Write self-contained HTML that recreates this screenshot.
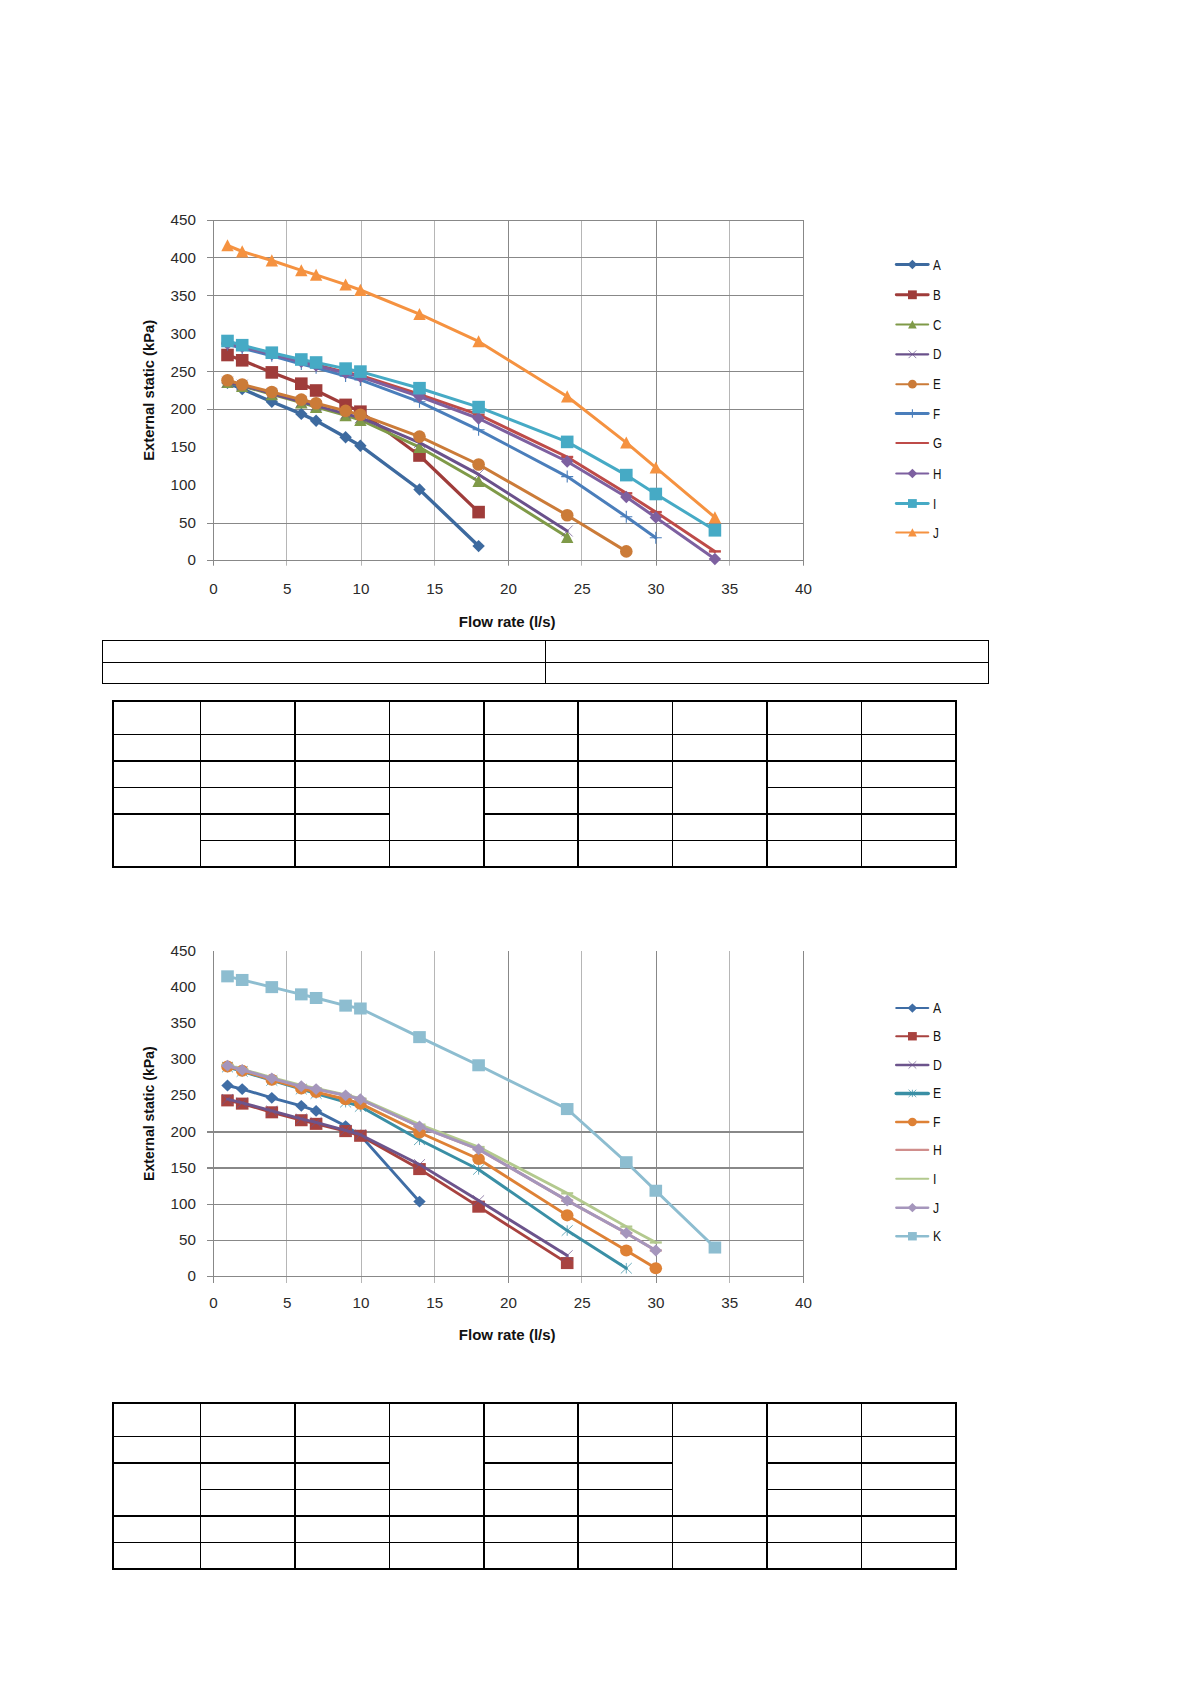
<!DOCTYPE html>
<html lang="en"><head><meta charset="utf-8"><title>Flow rate charts</title>
<style>
html,body{margin:0;padding:0;background:#fff;}
body{width:1190px;height:1684px;overflow:hidden;}
svg{display:block;}
.tk{font-family:"Liberation Sans", sans-serif;font-size:15.2px;fill:#2a2a2a;}
.lg{font-family:"Liberation Sans", sans-serif;fill:#111;}
.ttl{font-family:"Liberation Sans", sans-serif;font-size:14.9px;font-weight:bold;fill:#111;}
</style></head><body>
<svg width="1190" height="1684" viewBox="0 0 1190 1684">
<rect width="1190" height="1684" fill="#fff"/>
<g id="chart1">
<line x1="213.5" y1="220.5" x2="213.5" y2="565.7" stroke="#888888" stroke-width="1"/>
<line x1="286.5" y1="220.5" x2="286.5" y2="565.7" stroke="#b6b6b6" stroke-width="1"/>
<line x1="361.5" y1="220.5" x2="361.5" y2="565.7" stroke="#b6b6b6" stroke-width="1"/>
<line x1="434.5" y1="220.5" x2="434.5" y2="565.7" stroke="#b6b6b6" stroke-width="1"/>
<line x1="508.5" y1="220.5" x2="508.5" y2="565.7" stroke="#888888" stroke-width="1"/>
<line x1="581.5" y1="220.5" x2="581.5" y2="565.7" stroke="#b6b6b6" stroke-width="1"/>
<line x1="656.5" y1="220.5" x2="656.5" y2="565.7" stroke="#888888" stroke-width="1"/>
<line x1="729.5" y1="220.5" x2="729.5" y2="565.7" stroke="#b6b6b6" stroke-width="1"/>
<line x1="803.5" y1="220.5" x2="803.5" y2="565.7" stroke="#888888" stroke-width="1"/>
<line x1="207" y1="220.5" x2="804" y2="220.5" stroke="#888888" stroke-width="1"/>
<line x1="207" y1="257.5" x2="804" y2="257.5" stroke="#888888" stroke-width="1"/>
<line x1="207" y1="295.5" x2="804" y2="295.5" stroke="#888888" stroke-width="1"/>
<line x1="207" y1="371.5" x2="804" y2="371.5" stroke="#888888" stroke-width="1"/>
<line x1="207" y1="409.5" x2="804" y2="409.5" stroke="#888888" stroke-width="1"/>
<line x1="207" y1="523.5" x2="804" y2="523.5" stroke="#888888" stroke-width="1"/>
<line x1="207" y1="560.5" x2="804" y2="560.5" stroke="#888888" stroke-width="1"/>
<text x="195.9" y="565.4" text-anchor="end" class="tk">0</text>
<text x="195.9" y="527.6" text-anchor="end" class="tk">50</text>
<text x="195.9" y="489.8" text-anchor="end" class="tk">100</text>
<text x="195.9" y="452.1" text-anchor="end" class="tk">150</text>
<text x="195.9" y="414.3" text-anchor="end" class="tk">200</text>
<text x="195.9" y="376.5" text-anchor="end" class="tk">250</text>
<text x="195.9" y="338.7" text-anchor="end" class="tk">300</text>
<text x="195.9" y="301.0" text-anchor="end" class="tk">350</text>
<text x="195.9" y="263.2" text-anchor="end" class="tk">400</text>
<text x="195.9" y="225.4" text-anchor="end" class="tk">450</text>
<text x="213.5" y="593.6" text-anchor="middle" class="tk">0</text>
<text x="287.2" y="593.6" text-anchor="middle" class="tk">5</text>
<text x="361.0" y="593.6" text-anchor="middle" class="tk">10</text>
<text x="434.8" y="593.6" text-anchor="middle" class="tk">15</text>
<text x="508.5" y="593.6" text-anchor="middle" class="tk">20</text>
<text x="582.2" y="593.6" text-anchor="middle" class="tk">25</text>
<text x="656.0" y="593.6" text-anchor="middle" class="tk">30</text>
<text x="729.8" y="593.6" text-anchor="middle" class="tk">35</text>
<text x="803.5" y="593.6" text-anchor="middle" class="tk">40</text>
<text x="458.8" y="627.2" textLength="96.8" lengthAdjust="spacingAndGlyphs" class="ttl">Flow rate (l/s)</text>
<text transform="translate(154.4,460.8) rotate(-90)" textLength="141" lengthAdjust="spacingAndGlyphs" class="ttl">External static (kPa)</text>
<path d="M227.5,382.9L242.2,389.0L271.8,401.8L301.3,413.9L316.1,420.7L345.6,437.3L360.4,445.7L419.5,489.5L478.6,546.1" fill="none" stroke="#3d6a9f" stroke-width="3.4" stroke-linejoin="round" stroke-linecap="round"/>
<path d="M227.5,376.7L233.7,382.9L227.5,389.09999999999997L221.3,382.9Z" fill="#3d6a9f"/>
<path d="M242.2,382.8L248.39999999999998,389.0L242.2,395.2L236.0,389.0Z" fill="#3d6a9f"/>
<path d="M271.8,395.6L278.0,401.8L271.8,408.0L265.6,401.8Z" fill="#3d6a9f"/>
<path d="M301.3,407.7L307.5,413.9L301.3,420.09999999999997L295.1,413.9Z" fill="#3d6a9f"/>
<path d="M316.1,414.5L322.3,420.7L316.1,426.9L309.90000000000003,420.7Z" fill="#3d6a9f"/>
<path d="M345.6,431.1L351.8,437.3L345.6,443.5L339.40000000000003,437.3Z" fill="#3d6a9f"/>
<path d="M360.4,439.5L366.59999999999997,445.7L360.4,451.9L354.2,445.7Z" fill="#3d6a9f"/>
<path d="M419.5,483.3L425.7,489.5L419.5,495.7L413.3,489.5Z" fill="#3d6a9f"/>
<path d="M478.6,539.9L484.8,546.1L478.6,552.3000000000001L472.40000000000003,546.1Z" fill="#3d6a9f"/>
<path d="M227.5,355.0L242.2,360.3L271.8,372.4L301.3,383.7L316.1,390.5L345.6,404.9L360.4,411.7L419.5,455.5L478.6,512.1" fill="none" stroke="#9f3c3a" stroke-width="3.2" stroke-linejoin="round" stroke-linecap="round"/>
<rect x="221.2" y="348.7" width="12.6" height="12.6" fill="#9f3c3a"/>
<rect x="235.9" y="354.0" width="12.6" height="12.6" fill="#9f3c3a"/>
<rect x="265.5" y="366.1" width="12.6" height="12.6" fill="#9f3c3a"/>
<rect x="295.0" y="377.4" width="12.6" height="12.6" fill="#9f3c3a"/>
<rect x="309.8" y="384.2" width="12.6" height="12.6" fill="#9f3c3a"/>
<rect x="339.3" y="398.6" width="12.6" height="12.6" fill="#9f3c3a"/>
<rect x="354.1" y="405.4" width="12.6" height="12.6" fill="#9f3c3a"/>
<rect x="413.2" y="449.2" width="12.6" height="12.6" fill="#9f3c3a"/>
<rect x="472.3" y="505.8" width="12.6" height="12.6" fill="#9f3c3a"/>
<path d="M227.5,382.2L242.2,386.0L271.8,394.3L301.3,402.6L316.1,407.1L345.6,415.4L360.4,420.0L419.5,447.2L478.6,481.2L567.2,537.1" fill="none" stroke="#7f9a48" stroke-width="3.0" stroke-linejoin="round" stroke-linecap="round"/>
<path d="M227.5,376.0L233.7,388.09L221.3,388.09Z" fill="#7f9a48"/>
<path d="M242.2,379.8L248.39999999999998,391.89L236.0,391.89Z" fill="#7f9a48"/>
<path d="M271.8,388.1L278.0,400.19L265.6,400.19Z" fill="#7f9a48"/>
<path d="M301.3,396.40000000000003L307.5,408.49L295.1,408.49Z" fill="#7f9a48"/>
<path d="M316.1,400.90000000000003L322.3,412.99L309.90000000000003,412.99Z" fill="#7f9a48"/>
<path d="M345.6,409.2L351.8,421.28999999999996L339.40000000000003,421.28999999999996Z" fill="#7f9a48"/>
<path d="M360.4,413.8L366.59999999999997,425.89L354.2,425.89Z" fill="#7f9a48"/>
<path d="M419.5,441.0L425.7,453.09L413.3,453.09Z" fill="#7f9a48"/>
<path d="M478.6,475.0L484.8,487.09L472.40000000000003,487.09Z" fill="#7f9a48"/>
<path d="M567.2,530.9L573.4000000000001,542.99L561.0,542.99Z" fill="#7f9a48"/>
<path d="M227.5,382.2L242.2,385.2L271.8,393.5L301.3,401.8L316.1,405.6L345.6,413.9L360.4,417.7L419.5,442.6L478.6,474.4L567.2,531.0" fill="none" stroke="#6a518b" stroke-width="3.0" stroke-linejoin="round" stroke-linecap="round"/>
<path d="M222.0,376.7L233.0,387.7M222.0,387.7L233.0,376.7" stroke="#6a518b" stroke-width="0.9" fill="none" opacity="0.8"/>
<path d="M236.7,379.7L247.7,390.7M236.7,390.7L247.7,379.7" stroke="#6a518b" stroke-width="0.9" fill="none" opacity="0.8"/>
<path d="M266.3,388.0L277.3,399.0M266.3,399.0L277.3,388.0" stroke="#6a518b" stroke-width="0.9" fill="none" opacity="0.8"/>
<path d="M295.8,396.3L306.8,407.3M295.8,407.3L306.8,396.3" stroke="#6a518b" stroke-width="0.9" fill="none" opacity="0.8"/>
<path d="M310.6,400.1L321.6,411.1M310.6,411.1L321.6,400.1" stroke="#6a518b" stroke-width="0.9" fill="none" opacity="0.8"/>
<path d="M340.1,408.4L351.1,419.4M340.1,419.4L351.1,408.4" stroke="#6a518b" stroke-width="0.9" fill="none" opacity="0.8"/>
<path d="M354.9,412.2L365.9,423.2M354.9,423.2L365.9,412.2" stroke="#6a518b" stroke-width="0.9" fill="none" opacity="0.8"/>
<path d="M414.0,437.1L425.0,448.1M414.0,448.1L425.0,437.1" stroke="#6a518b" stroke-width="0.9" fill="none" opacity="0.8"/>
<path d="M473.1,468.9L484.1,479.9M473.1,479.9L484.1,468.9" stroke="#6a518b" stroke-width="0.9" fill="none" opacity="0.8"/>
<path d="M561.7,525.5L572.7,536.5M561.7,536.5L572.7,525.5" stroke="#6a518b" stroke-width="0.9" fill="none" opacity="0.8"/>
<path d="M227.5,380.3L242.2,384.5L271.8,392.0L301.3,399.6L316.1,403.3L345.6,410.9L360.4,414.7L419.5,436.6L478.6,464.5L567.2,515.2L626.3,551.4" fill="none" stroke="#cb7b38" stroke-width="3.0" stroke-linejoin="round" stroke-linecap="round"/>
<circle cx="227.5" cy="380.3" r="6.3" fill="#cb7b38"/>
<circle cx="242.2" cy="384.5" r="6.3" fill="#cb7b38"/>
<circle cx="271.8" cy="392.0" r="6.3" fill="#cb7b38"/>
<circle cx="301.3" cy="399.6" r="6.3" fill="#cb7b38"/>
<circle cx="316.1" cy="403.3" r="6.3" fill="#cb7b38"/>
<circle cx="345.6" cy="410.9" r="6.3" fill="#cb7b38"/>
<circle cx="360.4" cy="414.7" r="6.3" fill="#cb7b38"/>
<circle cx="419.5" cy="436.6" r="6.3" fill="#cb7b38"/>
<circle cx="478.6" cy="464.5" r="6.3" fill="#cb7b38"/>
<circle cx="567.2" cy="515.2" r="6.3" fill="#cb7b38"/>
<circle cx="626.3" cy="551.4" r="6.3" fill="#cb7b38"/>
<path d="M227.5,344.4L242.2,348.2L271.8,355.7L301.3,364.1L316.1,367.8L345.6,376.1L360.4,379.9L419.5,401.8L478.6,429.8L567.2,476.6L626.3,516.7L655.8,537.8" fill="none" stroke="#4a7ebb" stroke-width="3.0" stroke-linejoin="round" stroke-linecap="round"/>
<path d="M221.5,344.4L233.5,344.4M227.5,338.4L227.5,350.4" stroke="#4a7ebb" stroke-width="1.1" fill="none"/>
<path d="M236.2,348.2L248.2,348.2M242.2,342.2L242.2,354.2" stroke="#4a7ebb" stroke-width="1.1" fill="none"/>
<path d="M265.8,355.7L277.8,355.7M271.8,349.7L271.8,361.7" stroke="#4a7ebb" stroke-width="1.1" fill="none"/>
<path d="M295.3,364.1L307.3,364.1M301.3,358.1L301.3,370.1" stroke="#4a7ebb" stroke-width="1.1" fill="none"/>
<path d="M310.1,367.8L322.1,367.8M316.1,361.8L316.1,373.8" stroke="#4a7ebb" stroke-width="1.1" fill="none"/>
<path d="M339.6,376.1L351.6,376.1M345.6,370.1L345.6,382.1" stroke="#4a7ebb" stroke-width="1.1" fill="none"/>
<path d="M354.4,379.9L366.4,379.9M360.4,373.9L360.4,385.9" stroke="#4a7ebb" stroke-width="1.1" fill="none"/>
<path d="M413.5,401.8L425.5,401.8M419.5,395.8L419.5,407.8" stroke="#4a7ebb" stroke-width="1.1" fill="none"/>
<path d="M472.6,429.8L484.6,429.8M478.6,423.8L478.6,435.8" stroke="#4a7ebb" stroke-width="1.1" fill="none"/>
<path d="M561.2,476.6L573.2,476.6M567.2,470.6L567.2,482.6" stroke="#4a7ebb" stroke-width="1.1" fill="none"/>
<path d="M620.3,516.7L632.3,516.7M626.3,510.70000000000005L626.3,522.7" stroke="#4a7ebb" stroke-width="1.1" fill="none"/>
<path d="M649.8,537.8L661.8,537.8M655.8,531.8L655.8,543.8" stroke="#4a7ebb" stroke-width="1.1" fill="none"/>
<path d="M227.5,342.9L242.2,345.9L271.8,353.5L301.3,361.0L316.1,364.8L345.6,372.4L360.4,375.4L419.5,394.3L478.6,414.7L567.2,457.0L626.3,493.3L655.8,512.1L714.9,551.4" fill="none" stroke="#be4b48" stroke-width="3.0" stroke-linejoin="round" stroke-linecap="round"/>
<rect x="221.5" y="341.7" width="12.0" height="2.4" fill="#be4b48"/>
<rect x="236.2" y="344.7" width="12.0" height="2.4" fill="#be4b48"/>
<rect x="265.8" y="352.3" width="12.0" height="2.4" fill="#be4b48"/>
<rect x="295.3" y="359.8" width="12.0" height="2.4" fill="#be4b48"/>
<rect x="310.1" y="363.6" width="12.0" height="2.4" fill="#be4b48"/>
<rect x="339.6" y="371.2" width="12.0" height="2.4" fill="#be4b48"/>
<rect x="354.4" y="374.2" width="12.0" height="2.4" fill="#be4b48"/>
<rect x="413.5" y="393.1" width="12.0" height="2.4" fill="#be4b48"/>
<rect x="472.6" y="413.5" width="12.0" height="2.4" fill="#be4b48"/>
<rect x="561.2" y="455.8" width="12.0" height="2.4" fill="#be4b48"/>
<rect x="620.3" y="492.1" width="12.0" height="2.4" fill="#be4b48"/>
<rect x="649.8" y="510.9" width="12.0" height="2.4" fill="#be4b48"/>
<rect x="708.9" y="550.2" width="12.0" height="2.4" fill="#be4b48"/>
<path d="M227.5,343.7L242.2,346.7L271.8,354.2L301.3,361.8L316.1,365.6L345.6,373.1L360.4,376.9L419.5,396.5L478.6,418.5L567.2,461.5L626.3,497.0L655.8,517.4L714.9,559.0" fill="none" stroke="#7d60a0" stroke-width="3.0" stroke-linejoin="round" stroke-linecap="round"/>
<path d="M227.5,337.5L233.7,343.7L227.5,349.9L221.3,343.7Z" fill="#7d60a0"/>
<path d="M242.2,340.5L248.39999999999998,346.7L242.2,352.9L236.0,346.7Z" fill="#7d60a0"/>
<path d="M271.8,348.0L278.0,354.2L271.8,360.4L265.6,354.2Z" fill="#7d60a0"/>
<path d="M301.3,355.6L307.5,361.8L301.3,368.0L295.1,361.8Z" fill="#7d60a0"/>
<path d="M316.1,359.40000000000003L322.3,365.6L316.1,371.8L309.90000000000003,365.6Z" fill="#7d60a0"/>
<path d="M345.6,366.90000000000003L351.8,373.1L345.6,379.3L339.40000000000003,373.1Z" fill="#7d60a0"/>
<path d="M360.4,370.7L366.59999999999997,376.9L360.4,383.09999999999997L354.2,376.9Z" fill="#7d60a0"/>
<path d="M419.5,390.3L425.7,396.5L419.5,402.7L413.3,396.5Z" fill="#7d60a0"/>
<path d="M478.6,412.3L484.8,418.5L478.6,424.7L472.40000000000003,418.5Z" fill="#7d60a0"/>
<path d="M567.2,455.3L573.4000000000001,461.5L567.2,467.7L561.0,461.5Z" fill="#7d60a0"/>
<path d="M626.3,490.8L632.5,497.0L626.3,503.2L620.0999999999999,497.0Z" fill="#7d60a0"/>
<path d="M655.8,511.2L662.0,517.4L655.8,523.6L649.5999999999999,517.4Z" fill="#7d60a0"/>
<path d="M714.9,552.8L721.1,559.0L714.9,565.2L708.6999999999999,559.0Z" fill="#7d60a0"/>
<path d="M227.5,341.0L242.2,345.2L271.8,352.7L301.3,359.5L316.1,362.5L345.6,368.6L360.4,371.6L419.5,388.2L478.6,407.1L567.2,441.9L626.3,475.1L655.8,494.0L714.9,530.3" fill="none" stroke="#46aac5" stroke-width="3.0" stroke-linejoin="round" stroke-linecap="round"/>
<rect x="221.2" y="334.7" width="12.6" height="12.6" fill="#46aac5"/>
<rect x="235.9" y="338.9" width="12.6" height="12.6" fill="#46aac5"/>
<rect x="265.5" y="346.4" width="12.6" height="12.6" fill="#46aac5"/>
<rect x="295.0" y="353.2" width="12.6" height="12.6" fill="#46aac5"/>
<rect x="309.8" y="356.2" width="12.6" height="12.6" fill="#46aac5"/>
<rect x="339.3" y="362.3" width="12.6" height="12.6" fill="#46aac5"/>
<rect x="354.1" y="365.3" width="12.6" height="12.6" fill="#46aac5"/>
<rect x="413.2" y="381.9" width="12.6" height="12.6" fill="#46aac5"/>
<rect x="472.3" y="400.8" width="12.6" height="12.6" fill="#46aac5"/>
<rect x="560.9" y="435.6" width="12.6" height="12.6" fill="#46aac5"/>
<rect x="620.0" y="468.8" width="12.6" height="12.6" fill="#46aac5"/>
<rect x="649.5" y="487.7" width="12.6" height="12.6" fill="#46aac5"/>
<rect x="708.6" y="524.0" width="12.6" height="12.6" fill="#46aac5"/>
<path d="M227.5,245.4L242.2,251.5L271.8,260.5L301.3,270.4L316.1,274.9L345.6,284.7L360.4,290.0L419.5,314.2L478.6,341.4L567.2,396.5L626.3,442.6L655.8,467.6L714.9,517.4" fill="none" stroke="#f59240" stroke-width="3.0" stroke-linejoin="round" stroke-linecap="round"/>
<path d="M227.5,239.20000000000002L233.7,251.29L221.3,251.29Z" fill="#f59240"/>
<path d="M242.2,245.3L248.39999999999998,257.39L236.0,257.39Z" fill="#f59240"/>
<path d="M271.8,254.3L278.0,266.39L265.6,266.39Z" fill="#f59240"/>
<path d="M301.3,264.2L307.5,276.28999999999996L295.1,276.28999999999996Z" fill="#f59240"/>
<path d="M316.1,268.7L322.3,280.78999999999996L309.90000000000003,280.78999999999996Z" fill="#f59240"/>
<path d="M345.6,278.5L351.8,290.59L339.40000000000003,290.59Z" fill="#f59240"/>
<path d="M360.4,283.8L366.59999999999997,295.89L354.2,295.89Z" fill="#f59240"/>
<path d="M419.5,308.0L425.7,320.09L413.3,320.09Z" fill="#f59240"/>
<path d="M478.6,335.2L484.8,347.28999999999996L472.40000000000003,347.28999999999996Z" fill="#f59240"/>
<path d="M567.2,390.3L573.4000000000001,402.39L561.0,402.39Z" fill="#f59240"/>
<path d="M626.3,436.40000000000003L632.5,448.49L620.0999999999999,448.49Z" fill="#f59240"/>
<path d="M655.8,461.40000000000003L662.0,473.49L649.5999999999999,473.49Z" fill="#f59240"/>
<path d="M714.9,511.2L721.1,523.29L708.6999999999999,523.29Z" fill="#f59240"/>
<line x1="896.3" y1="264.5" x2="928.2" y2="264.5" stroke="#3d6a9f" stroke-width="2.9" stroke-linecap="round"/>
<path d="M912.4,259.664L917.236,264.5L912.4,269.336L907.564,264.5Z" fill="#3d6a9f"/>
<text transform="translate(933.1,269.6) scale(0.81,1)" class="lg" font-size="14.40">A</text>
<line x1="896.3" y1="294.8" x2="928.2" y2="294.8" stroke="#9f3c3a" stroke-width="2.9" stroke-linecap="round"/>
<rect x="908.0" y="290.4" width="8.8" height="8.8" fill="#9f3c3a"/>
<text transform="translate(933.1,299.9) scale(0.81,1)" class="lg" font-size="14.40">B</text>
<line x1="896.3" y1="324.5" x2="928.2" y2="324.5" stroke="#7f9a48" stroke-width="2.0" stroke-linecap="round"/>
<path d="M912.4,320.16L916.74,328.623L908.06,328.623Z" fill="#7f9a48"/>
<text transform="translate(933.1,329.6) scale(0.81,1)" class="lg" font-size="14.40">C</text>
<line x1="896.3" y1="354.3" x2="928.2" y2="354.3" stroke="#6a518b" stroke-width="2.2" stroke-linecap="round"/>
<path d="M908.55,350.45L916.25,358.15000000000003M908.55,358.15000000000003L916.25,350.45" stroke="#6a518b" stroke-width="0.9" fill="none" opacity="0.8"/>
<text transform="translate(933.1,359.4) scale(0.81,1)" class="lg" font-size="14.40">D</text>
<line x1="896.3" y1="384.2" x2="928.2" y2="384.2" stroke="#cb7b38" stroke-width="2.0" stroke-linecap="round"/>
<circle cx="912.4" cy="384.2" r="4.4" fill="#cb7b38"/>
<text transform="translate(933.1,389.3) scale(0.81,1)" class="lg" font-size="14.40">E</text>
<line x1="896.3" y1="413.5" x2="928.2" y2="413.5" stroke="#4a7ebb" stroke-width="2.9" stroke-linecap="round"/>
<path d="M908.1999999999999,413.5L916.6,413.5M912.4,409.3L912.4,417.7" stroke="#4a7ebb" stroke-width="1.1" fill="none"/>
<text transform="translate(933.1,418.6) scale(0.81,1)" class="lg" font-size="14.40">F</text>
<line x1="896.3" y1="443.0" x2="928.2" y2="443.0" stroke="#be4b48" stroke-width="2.0" stroke-linecap="round"/>
<text transform="translate(933.1,448.1) scale(0.81,1)" class="lg" font-size="14.40">G</text>
<line x1="896.3" y1="473.5" x2="928.2" y2="473.5" stroke="#7d60a0" stroke-width="2.2" stroke-linecap="round"/>
<path d="M912.4,468.664L917.236,473.5L912.4,478.336L907.564,473.5Z" fill="#7d60a0"/>
<text transform="translate(933.1,478.6) scale(0.81,1)" class="lg" font-size="14.40">H</text>
<line x1="896.3" y1="503.5" x2="928.2" y2="503.5" stroke="#46aac5" stroke-width="2.9" stroke-linecap="round"/>
<rect x="908.0" y="499.1" width="8.8" height="8.8" fill="#46aac5"/>
<text transform="translate(933.1,508.6) scale(0.81,1)" class="lg" font-size="14.40">I</text>
<line x1="896.3" y1="532.5" x2="928.2" y2="532.5" stroke="#f59240" stroke-width="2.2" stroke-linecap="round"/>
<path d="M912.4,528.16L916.74,536.623L908.06,536.623Z" fill="#f59240"/>
<text transform="translate(933.1,537.6) scale(0.81,1)" class="lg" font-size="14.40">J</text>
</g>
<g id="chart2">
<line x1="213.5" y1="951.0" x2="213.5" y2="1283.0" stroke="#888888" stroke-width="1"/>
<line x1="286.5" y1="951.0" x2="286.5" y2="1283.0" stroke="#b6b6b6" stroke-width="1"/>
<line x1="361.5" y1="951.0" x2="361.5" y2="1283.0" stroke="#b6b6b6" stroke-width="1"/>
<line x1="434.5" y1="951.0" x2="434.5" y2="1283.0" stroke="#b6b6b6" stroke-width="1"/>
<line x1="508.5" y1="951.0" x2="508.5" y2="1283.0" stroke="#888888" stroke-width="1"/>
<line x1="581.5" y1="951.0" x2="581.5" y2="1283.0" stroke="#b6b6b6" stroke-width="1"/>
<line x1="656.5" y1="951.0" x2="656.5" y2="1283.0" stroke="#888888" stroke-width="1"/>
<line x1="729.5" y1="951.0" x2="729.5" y2="1283.0" stroke="#b6b6b6" stroke-width="1"/>
<line x1="803.5" y1="951.0" x2="803.5" y2="1283.0" stroke="#888888" stroke-width="1"/>
<line x1="207" y1="1132" x2="804" y2="1132" stroke="#888888" stroke-width="2"/>
<line x1="207" y1="1168" x2="804" y2="1168" stroke="#888888" stroke-width="2"/>
<line x1="207" y1="1204.5" x2="804" y2="1204.5" stroke="#888888" stroke-width="1"/>
<line x1="207" y1="1240.5" x2="804" y2="1240.5" stroke="#888888" stroke-width="1"/>
<line x1="207" y1="1276.5" x2="804" y2="1276.5" stroke="#888888" stroke-width="1"/>
<g transform="scale(1,0.9542)">
<text x="195.9" y="1342.7" text-anchor="end" class="tk">0</text>
<text x="195.9" y="1304.8" text-anchor="end" class="tk">50</text>
<text x="195.9" y="1266.9" text-anchor="end" class="tk">100</text>
<text x="195.9" y="1229.0" text-anchor="end" class="tk">150</text>
<text x="195.9" y="1191.1" text-anchor="end" class="tk">200</text>
<text x="195.9" y="1153.2" text-anchor="end" class="tk">250</text>
<text x="195.9" y="1115.3" text-anchor="end" class="tk">300</text>
<text x="195.9" y="1077.4" text-anchor="end" class="tk">350</text>
<text x="195.9" y="1039.4" text-anchor="end" class="tk">400</text>
<text x="195.9" y="1001.5" text-anchor="end" class="tk">450</text>
<text x="213.5" y="1371.1" text-anchor="middle" class="tk">0</text>
<text x="287.2" y="1371.1" text-anchor="middle" class="tk">5</text>
<text x="361.0" y="1371.1" text-anchor="middle" class="tk">10</text>
<text x="434.8" y="1371.1" text-anchor="middle" class="tk">15</text>
<text x="508.5" y="1371.1" text-anchor="middle" class="tk">20</text>
<text x="582.2" y="1371.1" text-anchor="middle" class="tk">25</text>
<text x="656.0" y="1371.1" text-anchor="middle" class="tk">30</text>
<text x="729.8" y="1371.1" text-anchor="middle" class="tk">35</text>
<text x="803.5" y="1371.1" text-anchor="middle" class="tk">40</text>
<text x="458.8" y="1404.3" textLength="96.8" lengthAdjust="spacingAndGlyphs" class="ttl">Flow rate (l/s)</text>
<text transform="translate(154.4,1237.6) rotate(-90)" textLength="141" lengthAdjust="spacingAndGlyphs" class="ttl">External static (kPa)</text>
<path d="M227.5,1137.6L242.2,1141.4L271.8,1150.5L301.3,1158.9L316.1,1164.2L345.6,1180.1L360.4,1189.9L419.5,1259.3" fill="none" stroke="#3f6da5" stroke-width="3.0" stroke-linejoin="round" stroke-linecap="round"/>
<path d="M227.5,1131.3999999999999L233.7,1137.6L227.5,1143.8L221.3,1137.6Z" fill="#3f6da5"/>
<path d="M242.2,1135.2L248.39999999999998,1141.4L242.2,1147.6000000000001L236.0,1141.4Z" fill="#3f6da5"/>
<path d="M271.8,1144.3L278.0,1150.5L271.8,1156.7L265.6,1150.5Z" fill="#3f6da5"/>
<path d="M301.3,1152.7L307.5,1158.9L301.3,1165.1000000000001L295.1,1158.9Z" fill="#3f6da5"/>
<path d="M316.1,1158.0L322.3,1164.2L316.1,1170.4L309.90000000000003,1164.2Z" fill="#3f6da5"/>
<path d="M345.6,1173.8999999999999L351.8,1180.1L345.6,1186.3L339.40000000000003,1180.1Z" fill="#3f6da5"/>
<path d="M360.4,1183.7L366.59999999999997,1189.9L360.4,1196.1000000000001L354.2,1189.9Z" fill="#3f6da5"/>
<path d="M419.5,1253.1L425.7,1259.3L419.5,1265.5L413.3,1259.3Z" fill="#3f6da5"/>
<path d="M227.5,1153.2L242.2,1156.6L271.8,1165.7L301.3,1174.0L316.1,1177.8L345.6,1185.4L360.4,1190.3L419.5,1225.2L478.6,1264.6L567.2,1323.7" fill="none" stroke="#a8423f" stroke-width="3.0" stroke-linejoin="round" stroke-linecap="round"/>
<rect x="221.2" y="1146.9" width="12.6" height="12.6" fill="#a8423f"/>
<rect x="235.9" y="1150.3" width="12.6" height="12.6" fill="#a8423f"/>
<rect x="265.5" y="1159.4" width="12.6" height="12.6" fill="#a8423f"/>
<rect x="295.0" y="1167.7" width="12.6" height="12.6" fill="#a8423f"/>
<rect x="309.8" y="1171.5" width="12.6" height="12.6" fill="#a8423f"/>
<rect x="339.3" y="1179.1" width="12.6" height="12.6" fill="#a8423f"/>
<rect x="354.1" y="1184.0" width="12.6" height="12.6" fill="#a8423f"/>
<rect x="413.2" y="1218.9" width="12.6" height="12.6" fill="#a8423f"/>
<rect x="472.3" y="1258.3" width="12.6" height="12.6" fill="#a8423f"/>
<rect x="560.9" y="1317.4" width="12.6" height="12.6" fill="#a8423f"/>
<path d="M227.5,1152.0L242.2,1155.8L271.8,1164.2L301.3,1172.5L316.1,1176.3L345.6,1184.6L360.4,1189.2L419.5,1220.3L478.6,1258.2L567.2,1315.8" fill="none" stroke="#6c548c" stroke-width="3.0" stroke-linejoin="round" stroke-linecap="round"/>
<path d="M222.0,1146.5L233.0,1157.5M222.0,1157.5L233.0,1146.5" stroke="#6c548c" stroke-width="0.9" fill="none" opacity="0.8"/>
<path d="M236.7,1150.3L247.7,1161.3M236.7,1161.3L247.7,1150.3" stroke="#6c548c" stroke-width="0.9" fill="none" opacity="0.8"/>
<path d="M266.3,1158.7L277.3,1169.7M266.3,1169.7L277.3,1158.7" stroke="#6c548c" stroke-width="0.9" fill="none" opacity="0.8"/>
<path d="M295.8,1167.0L306.8,1178.0M295.8,1178.0L306.8,1167.0" stroke="#6c548c" stroke-width="0.9" fill="none" opacity="0.8"/>
<path d="M310.6,1170.8L321.6,1181.8M310.6,1181.8L321.6,1170.8" stroke="#6c548c" stroke-width="0.9" fill="none" opacity="0.8"/>
<path d="M340.1,1179.1L351.1,1190.1M340.1,1190.1L351.1,1179.1" stroke="#6c548c" stroke-width="0.9" fill="none" opacity="0.8"/>
<path d="M354.9,1183.7L365.9,1194.7M354.9,1194.7L365.9,1183.7" stroke="#6c548c" stroke-width="0.9" fill="none" opacity="0.8"/>
<path d="M414.0,1214.8L425.0,1225.8M414.0,1225.8L425.0,1214.8" stroke="#6c548c" stroke-width="0.9" fill="none" opacity="0.8"/>
<path d="M473.1,1252.7L484.1,1263.7M473.1,1263.7L484.1,1252.7" stroke="#6c548c" stroke-width="0.9" fill="none" opacity="0.8"/>
<path d="M561.7,1310.3L572.7,1321.3M561.7,1321.3L572.7,1310.3" stroke="#6c548c" stroke-width="0.9" fill="none" opacity="0.8"/>
<path d="M227.5,1118.3L242.2,1122.9L271.8,1132.3L301.3,1141.4L316.1,1146.0L345.6,1155.1L360.4,1159.6L419.5,1194.5L478.6,1225.6L567.2,1289.6L626.3,1329.1" fill="none" stroke="#3a8fa5" stroke-width="3.0" stroke-linejoin="round" stroke-linecap="round"/>
<path d="M222.0,1112.8L233.0,1123.8M222.0,1123.8L233.0,1112.8M227.5,1112.8L227.5,1123.8" stroke="#3a8fa5" stroke-width="0.9" fill="none" opacity="0.85"/>
<path d="M236.7,1117.4L247.7,1128.4M236.7,1128.4L247.7,1117.4M242.2,1117.4L242.2,1128.4" stroke="#3a8fa5" stroke-width="0.9" fill="none" opacity="0.85"/>
<path d="M266.3,1126.8L277.3,1137.8M266.3,1137.8L277.3,1126.8M271.8,1126.8L271.8,1137.8" stroke="#3a8fa5" stroke-width="0.9" fill="none" opacity="0.85"/>
<path d="M295.8,1135.9L306.8,1146.9M295.8,1146.9L306.8,1135.9M301.3,1135.9L301.3,1146.9" stroke="#3a8fa5" stroke-width="0.9" fill="none" opacity="0.85"/>
<path d="M310.6,1140.5L321.6,1151.5M310.6,1151.5L321.6,1140.5M316.1,1140.5L316.1,1151.5" stroke="#3a8fa5" stroke-width="0.9" fill="none" opacity="0.85"/>
<path d="M340.1,1149.6L351.1,1160.6M340.1,1160.6L351.1,1149.6M345.6,1149.6L345.6,1160.6" stroke="#3a8fa5" stroke-width="0.9" fill="none" opacity="0.85"/>
<path d="M354.9,1154.1L365.9,1165.1M354.9,1165.1L365.9,1154.1M360.4,1154.1L360.4,1165.1" stroke="#3a8fa5" stroke-width="0.9" fill="none" opacity="0.85"/>
<path d="M414.0,1189.0L425.0,1200.0M414.0,1200.0L425.0,1189.0M419.5,1189.0L419.5,1200.0" stroke="#3a8fa5" stroke-width="0.9" fill="none" opacity="0.85"/>
<path d="M473.1,1220.1L484.1,1231.1M473.1,1231.1L484.1,1220.1M478.6,1220.1L478.6,1231.1" stroke="#3a8fa5" stroke-width="0.9" fill="none" opacity="0.85"/>
<path d="M561.7,1284.1L572.7,1295.1M561.7,1295.1L572.7,1284.1M567.2,1284.1L567.2,1295.1" stroke="#3a8fa5" stroke-width="0.9" fill="none" opacity="0.85"/>
<path d="M620.8,1323.6L631.8,1334.6M620.8,1334.6L631.8,1323.6M626.3,1323.6L626.3,1334.6" stroke="#3a8fa5" stroke-width="0.9" fill="none" opacity="0.85"/>
<path d="M227.5,1117.6L242.2,1122.1L271.8,1131.6L301.3,1140.7L316.1,1144.5L345.6,1152.0L360.4,1156.6L419.5,1186.9L478.6,1214.6L567.2,1273.7L626.3,1310.5L655.8,1329.1" fill="none" stroke="#de8135" stroke-width="3.0" stroke-linejoin="round" stroke-linecap="round"/>
<circle cx="227.5" cy="1117.6" r="6.3" fill="#de8135"/>
<circle cx="242.2" cy="1122.1" r="6.3" fill="#de8135"/>
<circle cx="271.8" cy="1131.6" r="6.3" fill="#de8135"/>
<circle cx="301.3" cy="1140.7" r="6.3" fill="#de8135"/>
<circle cx="316.1" cy="1144.5" r="6.3" fill="#de8135"/>
<circle cx="345.6" cy="1152.0" r="6.3" fill="#de8135"/>
<circle cx="360.4" cy="1156.6" r="6.3" fill="#de8135"/>
<circle cx="419.5" cy="1186.9" r="6.3" fill="#de8135"/>
<circle cx="478.6" cy="1214.6" r="6.3" fill="#de8135"/>
<circle cx="567.2" cy="1273.7" r="6.3" fill="#de8135"/>
<circle cx="626.3" cy="1310.5" r="6.3" fill="#de8135"/>
<circle cx="655.8" cy="1329.1" r="6.3" fill="#de8135"/>
<path d="M227.5,1116.8L242.2,1121.3L271.8,1130.1L301.3,1138.4L316.1,1141.4L345.6,1147.9L360.4,1152.0L419.5,1180.5L478.6,1204.4L567.2,1258.2L626.3,1292.3L655.8,1310.5" fill="none" stroke="#d08e8c" stroke-width="3.0" stroke-linejoin="round" stroke-linecap="round"/>
<rect x="221.5" y="1115.6" width="12.0" height="2.4" fill="#d08e8c"/>
<rect x="236.2" y="1120.1" width="12.0" height="2.4" fill="#d08e8c"/>
<rect x="265.8" y="1128.9" width="12.0" height="2.4" fill="#d08e8c"/>
<rect x="295.3" y="1137.2" width="12.0" height="2.4" fill="#d08e8c"/>
<rect x="310.1" y="1140.2" width="12.0" height="2.4" fill="#d08e8c"/>
<rect x="339.6" y="1146.7" width="12.0" height="2.4" fill="#d08e8c"/>
<rect x="354.4" y="1150.8" width="12.0" height="2.4" fill="#d08e8c"/>
<rect x="413.5" y="1179.3" width="12.0" height="2.4" fill="#d08e8c"/>
<rect x="472.6" y="1203.2" width="12.0" height="2.4" fill="#d08e8c"/>
<rect x="561.2" y="1257.0" width="12.0" height="2.4" fill="#d08e8c"/>
<rect x="620.3" y="1291.1" width="12.0" height="2.4" fill="#d08e8c"/>
<rect x="649.8" y="1309.3" width="12.0" height="2.4" fill="#d08e8c"/>
<path d="M227.5,1116.0L242.2,1120.6L271.8,1129.3L301.3,1137.6L316.1,1140.7L345.6,1147.5L360.4,1151.3L419.5,1178.6L478.6,1202.1L567.2,1250.6L626.3,1285.5L655.8,1302.1" fill="none" stroke="#b3c98e" stroke-width="3.0" stroke-linejoin="round" stroke-linecap="round"/>
<rect x="221.5" y="1114.8" width="12.0" height="2.4" fill="#b3c98e"/>
<rect x="236.2" y="1119.4" width="12.0" height="2.4" fill="#b3c98e"/>
<rect x="265.8" y="1128.1" width="12.0" height="2.4" fill="#b3c98e"/>
<rect x="295.3" y="1136.4" width="12.0" height="2.4" fill="#b3c98e"/>
<rect x="310.1" y="1139.5" width="12.0" height="2.4" fill="#b3c98e"/>
<rect x="339.6" y="1146.3" width="12.0" height="2.4" fill="#b3c98e"/>
<rect x="354.4" y="1150.1" width="12.0" height="2.4" fill="#b3c98e"/>
<rect x="413.5" y="1177.4" width="12.0" height="2.4" fill="#b3c98e"/>
<rect x="472.6" y="1200.9" width="12.0" height="2.4" fill="#b3c98e"/>
<rect x="561.2" y="1249.4" width="12.0" height="2.4" fill="#b3c98e"/>
<rect x="620.3" y="1284.3" width="12.0" height="2.4" fill="#b3c98e"/>
<rect x="649.8" y="1300.9" width="12.0" height="2.4" fill="#b3c98e"/>
<path d="M227.5,1116.8L242.2,1121.3L271.8,1130.1L301.3,1138.4L316.1,1141.4L345.6,1147.9L360.4,1152.0L419.5,1180.5L478.6,1204.4L567.2,1258.2L626.3,1292.3L655.8,1310.5" fill="none" stroke="#a596bc" stroke-width="3.0" stroke-linejoin="round" stroke-linecap="round"/>
<path d="M227.5,1110.6L233.7,1116.8L227.5,1123.0L221.3,1116.8Z" fill="#a596bc"/>
<path d="M242.2,1115.1L248.39999999999998,1121.3L242.2,1127.5L236.0,1121.3Z" fill="#a596bc"/>
<path d="M271.8,1123.8999999999999L278.0,1130.1L271.8,1136.3L265.6,1130.1Z" fill="#a596bc"/>
<path d="M301.3,1132.2L307.5,1138.4L301.3,1144.6000000000001L295.1,1138.4Z" fill="#a596bc"/>
<path d="M316.1,1135.2L322.3,1141.4L316.1,1147.6000000000001L309.90000000000003,1141.4Z" fill="#a596bc"/>
<path d="M345.6,1141.7L351.8,1147.9L345.6,1154.1000000000001L339.40000000000003,1147.9Z" fill="#a596bc"/>
<path d="M360.4,1145.8L366.59999999999997,1152.0L360.4,1158.2L354.2,1152.0Z" fill="#a596bc"/>
<path d="M419.5,1174.3L425.7,1180.5L419.5,1186.7L413.3,1180.5Z" fill="#a596bc"/>
<path d="M478.6,1198.2L484.8,1204.4L478.6,1210.6000000000001L472.40000000000003,1204.4Z" fill="#a596bc"/>
<path d="M567.2,1252.0L573.4000000000001,1258.2L567.2,1264.4L561.0,1258.2Z" fill="#a596bc"/>
<path d="M626.3,1286.1L632.5,1292.3L626.3,1298.5L620.0999999999999,1292.3Z" fill="#a596bc"/>
<path d="M655.8,1304.3L662.0,1310.5L655.8,1316.7L649.5999999999999,1310.5Z" fill="#a596bc"/>
<path d="M227.5,1023.2L242.2,1027.0L271.8,1034.5L301.3,1042.1L316.1,1045.9L345.6,1053.9L360.4,1056.9L419.5,1086.9L478.6,1116.4L567.2,1162.3L626.3,1218.0L655.8,1247.9L714.9,1307.4" fill="none" stroke="#8dbdd0" stroke-width="3.0" stroke-linejoin="round" stroke-linecap="round"/>
<rect x="221.2" y="1016.9" width="12.6" height="12.6" fill="#8dbdd0"/>
<rect x="235.9" y="1020.7" width="12.6" height="12.6" fill="#8dbdd0"/>
<rect x="265.5" y="1028.2" width="12.6" height="12.6" fill="#8dbdd0"/>
<rect x="295.0" y="1035.8" width="12.6" height="12.6" fill="#8dbdd0"/>
<rect x="309.8" y="1039.6" width="12.6" height="12.6" fill="#8dbdd0"/>
<rect x="339.3" y="1047.6" width="12.6" height="12.6" fill="#8dbdd0"/>
<rect x="354.1" y="1050.6" width="12.6" height="12.6" fill="#8dbdd0"/>
<rect x="413.2" y="1080.6" width="12.6" height="12.6" fill="#8dbdd0"/>
<rect x="472.3" y="1110.1" width="12.6" height="12.6" fill="#8dbdd0"/>
<rect x="560.9" y="1156.0" width="12.6" height="12.6" fill="#8dbdd0"/>
<rect x="620.0" y="1211.7" width="12.6" height="12.6" fill="#8dbdd0"/>
<rect x="649.5" y="1241.6" width="12.6" height="12.6" fill="#8dbdd0"/>
<rect x="708.6" y="1301.1" width="12.6" height="12.6" fill="#8dbdd0"/>
<line x1="896.3" y1="1056.4" x2="928.2" y2="1056.4" stroke="#3f6da5" stroke-width="2.2" stroke-linecap="round"/>
<path d="M912.4,1051.564L917.236,1056.4L912.4,1061.236L907.564,1056.4Z" fill="#3f6da5"/>
<text transform="translate(933.1,1061.7) scale(0.81,1)" class="lg" font-size="15.09">A</text>
<line x1="896.3" y1="1086.0" x2="928.2" y2="1086.0" stroke="#a8423f" stroke-width="2.2" stroke-linecap="round"/>
<rect x="908.0" y="1081.6" width="8.8" height="8.8" fill="#a8423f"/>
<text transform="translate(933.1,1091.4) scale(0.81,1)" class="lg" font-size="15.09">B</text>
<line x1="896.3" y1="1116.0" x2="928.2" y2="1116.0" stroke="#6c548c" stroke-width="2.6" stroke-linecap="round"/>
<path d="M908.55,1112.15L916.25,1119.85M908.55,1119.85L916.25,1112.15" stroke="#6c548c" stroke-width="0.9" fill="none" opacity="0.8"/>
<text transform="translate(933.1,1121.4) scale(0.81,1)" class="lg" font-size="15.09">D</text>
<line x1="896.3" y1="1145.9" x2="928.2" y2="1145.9" stroke="#3a8fa5" stroke-width="3.6" stroke-linecap="round"/>
<path d="M908.55,1142.0500000000002L916.25,1149.75M908.55,1149.75L916.25,1142.0500000000002M912.4,1142.0500000000002L912.4,1149.75" stroke="#3a8fa5" stroke-width="0.9" fill="none" opacity="0.85"/>
<text transform="translate(933.1,1151.2) scale(0.81,1)" class="lg" font-size="15.09">E</text>
<line x1="896.3" y1="1175.9" x2="928.2" y2="1175.9" stroke="#de8135" stroke-width="2.6" stroke-linecap="round"/>
<circle cx="912.4" cy="1175.9" r="4.4" fill="#de8135"/>
<text transform="translate(933.1,1181.2) scale(0.81,1)" class="lg" font-size="15.09">F</text>
<line x1="896.3" y1="1205.1" x2="928.2" y2="1205.1" stroke="#d08e8c" stroke-width="2.2" stroke-linecap="round"/>
<text transform="translate(933.1,1210.4) scale(0.81,1)" class="lg" font-size="15.09">H</text>
<line x1="896.3" y1="1235.4" x2="928.2" y2="1235.4" stroke="#b3c98e" stroke-width="2.2" stroke-linecap="round"/>
<text transform="translate(933.1,1240.7) scale(0.81,1)" class="lg" font-size="15.09">I</text>
<line x1="896.3" y1="1265.7" x2="928.2" y2="1265.7" stroke="#a596bc" stroke-width="2.4" stroke-linecap="round"/>
<path d="M912.4,1260.864L917.236,1265.7L912.4,1270.536L907.564,1265.7Z" fill="#a596bc"/>
<text transform="translate(933.1,1271.0) scale(0.81,1)" class="lg" font-size="15.09">J</text>
<line x1="896.3" y1="1295.6" x2="928.2" y2="1295.6" stroke="#8dbdd0" stroke-width="2.4" stroke-linecap="round"/>
<rect x="908.0" y="1291.2" width="8.8" height="8.8" fill="#8dbdd0"/>
<text transform="translate(933.1,1301.0) scale(0.81,1)" class="lg" font-size="15.09">K</text>
</g>
</g>
<g id="t0">
<line x1="102.0" y1="640.5" x2="989.0" y2="640.5" stroke="#000" stroke-width="1"/>
<line x1="102.0" y1="662.5" x2="989.0" y2="662.5" stroke="#000" stroke-width="1"/>
<line x1="102.0" y1="683.5" x2="989.0" y2="683.5" stroke="#000" stroke-width="1"/>
<line x1="102.5" y1="640" x2="102.5" y2="684" stroke="#000" stroke-width="1"/>
<line x1="545.5" y1="640" x2="545.5" y2="684" stroke="#000" stroke-width="1"/>
<line x1="988.5" y1="640" x2="988.5" y2="684" stroke="#000" stroke-width="1"/>
</g>
<g id="t1">
<line x1="113" y1="701" x2="113" y2="867" stroke="#000" stroke-width="2"/>
<line x1="200.5" y1="701" x2="200.5" y2="867" stroke="#000" stroke-width="1"/>
<line x1="295" y1="701" x2="295" y2="867" stroke="#000" stroke-width="2"/>
<line x1="389.5" y1="701" x2="389.5" y2="867" stroke="#000" stroke-width="1"/>
<line x1="484" y1="701" x2="484" y2="867" stroke="#000" stroke-width="2"/>
<line x1="578" y1="701" x2="578" y2="867" stroke="#000" stroke-width="2"/>
<line x1="672.5" y1="701" x2="672.5" y2="867" stroke="#000" stroke-width="1"/>
<line x1="767" y1="701" x2="767" y2="867" stroke="#000" stroke-width="2"/>
<line x1="861.5" y1="701" x2="861.5" y2="867" stroke="#000" stroke-width="1"/>
<line x1="956" y1="701" x2="956" y2="867" stroke="#000" stroke-width="2"/>
<line x1="112.0" y1="701" x2="957.0" y2="701" stroke="#000" stroke-width="2"/>
<line x1="112.0" y1="734.5" x2="957.0" y2="734.5" stroke="#000" stroke-width="1"/>
<line x1="112.0" y1="761" x2="957.0" y2="761" stroke="#000" stroke-width="2"/>
<line x1="112.0" y1="787.5" x2="673.0" y2="787.5" stroke="#000" stroke-width="1"/>
<line x1="766.0" y1="787.5" x2="957.0" y2="787.5" stroke="#000" stroke-width="1"/>
<line x1="112.0" y1="814" x2="390.0" y2="814" stroke="#000" stroke-width="2"/>
<line x1="483.0" y1="814" x2="957.0" y2="814" stroke="#000" stroke-width="2"/>
<line x1="200.0" y1="840.5" x2="957.0" y2="840.5" stroke="#000" stroke-width="1"/>
<line x1="112.0" y1="867" x2="957.0" y2="867" stroke="#000" stroke-width="2"/>
</g>
<g id="t2">
<line x1="113" y1="1403" x2="113" y2="1569" stroke="#000" stroke-width="2"/>
<line x1="200.5" y1="1403" x2="200.5" y2="1569" stroke="#000" stroke-width="1"/>
<line x1="295" y1="1403" x2="295" y2="1569" stroke="#000" stroke-width="2"/>
<line x1="389.5" y1="1403" x2="389.5" y2="1569" stroke="#000" stroke-width="1"/>
<line x1="484" y1="1403" x2="484" y2="1569" stroke="#000" stroke-width="2"/>
<line x1="578" y1="1403" x2="578" y2="1569" stroke="#000" stroke-width="2"/>
<line x1="672.5" y1="1403" x2="672.5" y2="1569" stroke="#000" stroke-width="1"/>
<line x1="767" y1="1403" x2="767" y2="1569" stroke="#000" stroke-width="2"/>
<line x1="861.5" y1="1403" x2="861.5" y2="1569" stroke="#000" stroke-width="1"/>
<line x1="956" y1="1403" x2="956" y2="1569" stroke="#000" stroke-width="2"/>
<line x1="112.0" y1="1403" x2="957.0" y2="1403" stroke="#000" stroke-width="2"/>
<line x1="112.0" y1="1436.5" x2="957.0" y2="1436.5" stroke="#000" stroke-width="1"/>
<line x1="112.0" y1="1463" x2="390.0" y2="1463" stroke="#000" stroke-width="2"/>
<line x1="483.0" y1="1463" x2="673.0" y2="1463" stroke="#000" stroke-width="2"/>
<line x1="766.0" y1="1463" x2="957.0" y2="1463" stroke="#000" stroke-width="2"/>
<line x1="200.0" y1="1489.5" x2="673.0" y2="1489.5" stroke="#000" stroke-width="1"/>
<line x1="766.0" y1="1489.5" x2="957.0" y2="1489.5" stroke="#000" stroke-width="1"/>
<line x1="112.0" y1="1516" x2="957.0" y2="1516" stroke="#000" stroke-width="2"/>
<line x1="112.0" y1="1542.5" x2="957.0" y2="1542.5" stroke="#000" stroke-width="1"/>
<line x1="112.0" y1="1569" x2="957.0" y2="1569" stroke="#000" stroke-width="2"/>
</g>
</svg>
</body></html>
